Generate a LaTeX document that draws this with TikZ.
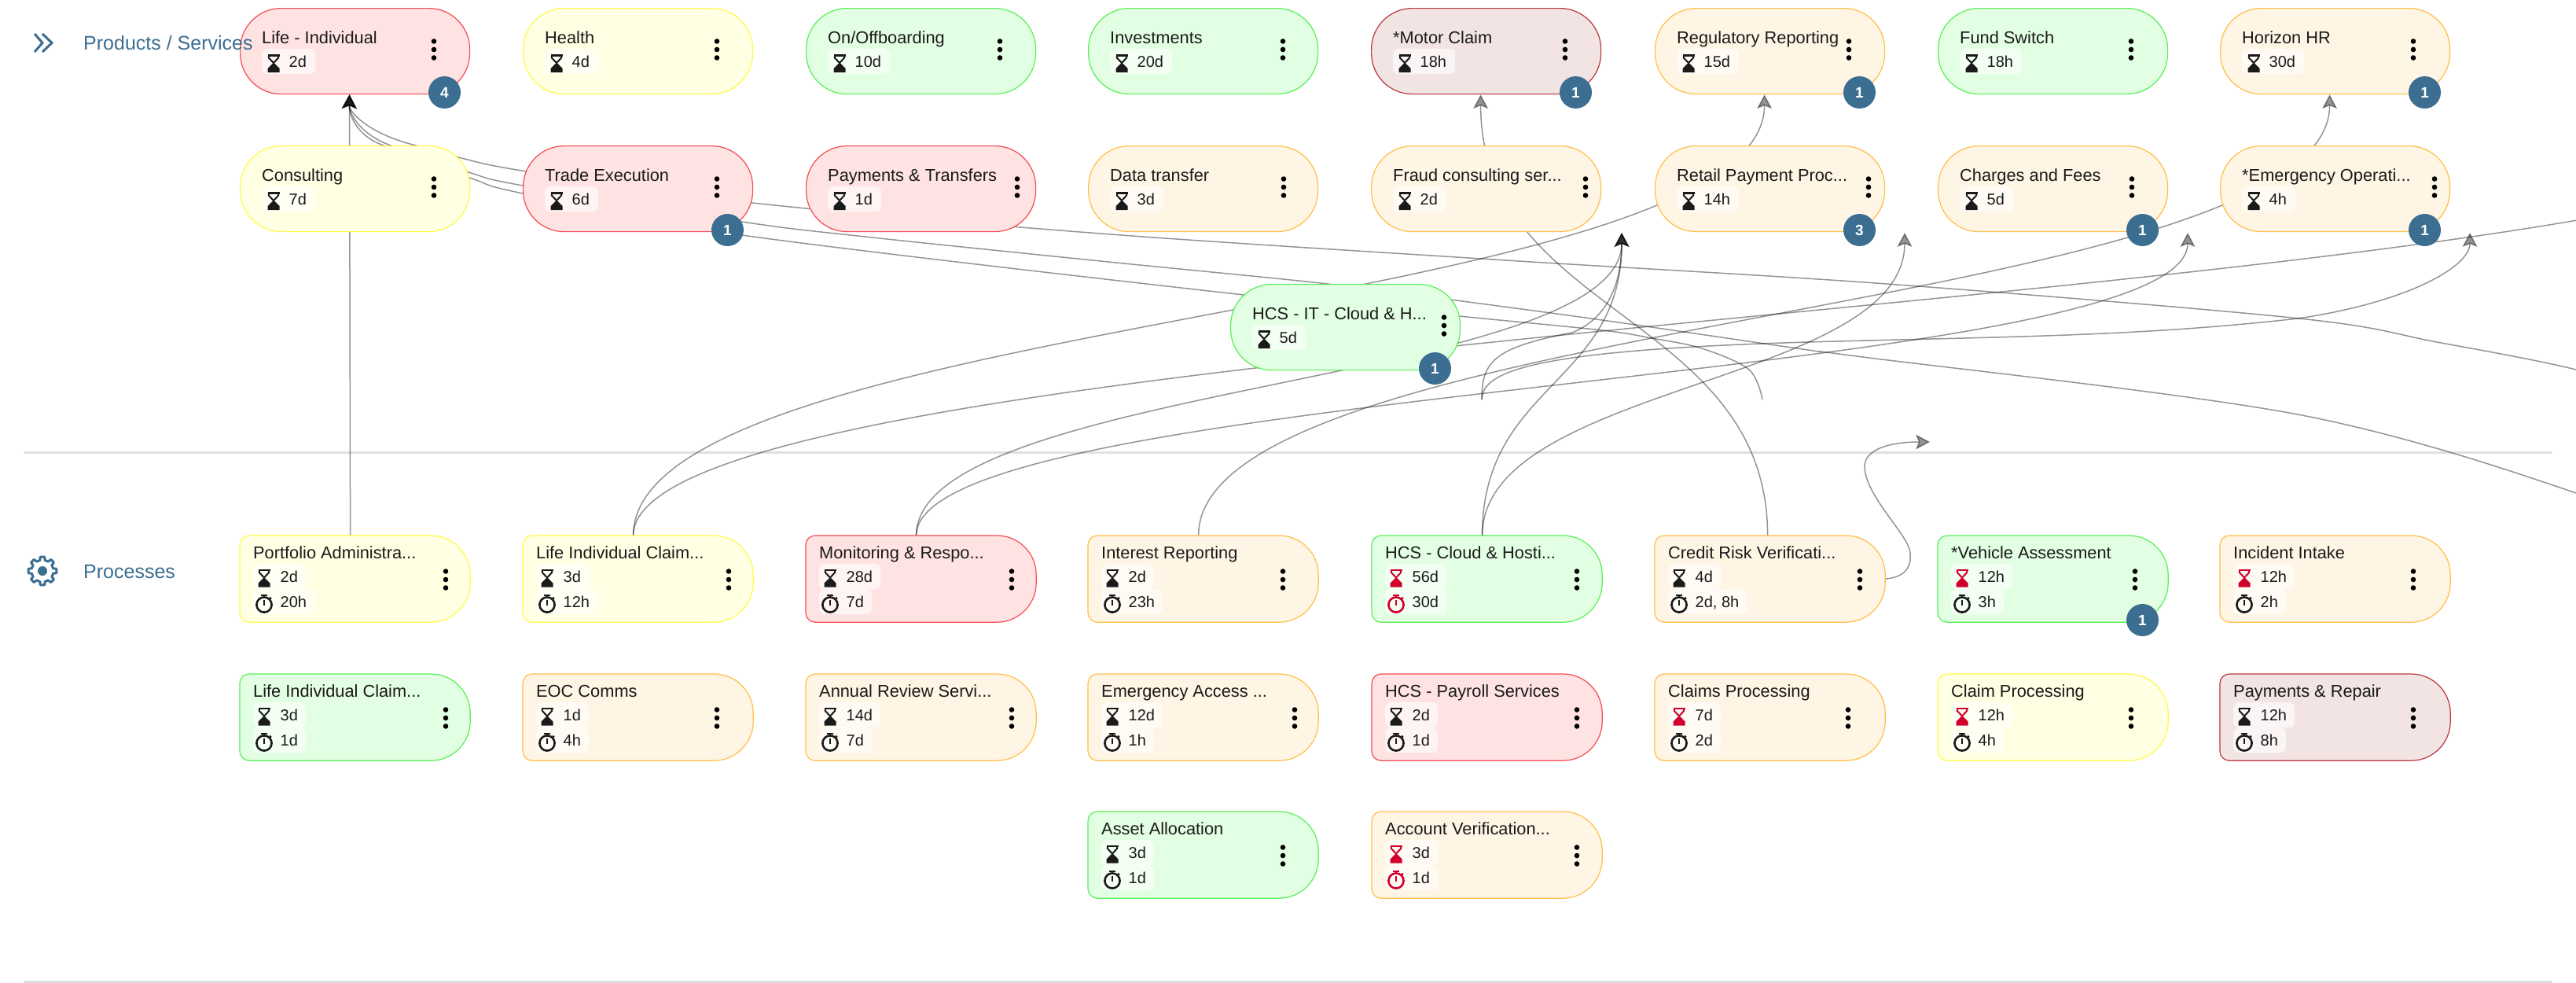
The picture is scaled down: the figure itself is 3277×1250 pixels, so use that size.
\documentclass[tikz,border=0pt]{standalone}
\usepackage{fontspec}
\setmainfont{Liberation Sans}
\usetikzlibrary{arrows.meta,backgrounds,calc}
\definecolor{inkc}{HTML}{1A1A1A}
\definecolor{alertc}{HTML}{D0002A}
\definecolor{bluec}{HTML}{3B6E91}
\definecolor{sepc}{HTML}{E0E0E0}
\tikzset{
  cRed/.style={fill={rgb,255:red,255;green,227;blue,227},draw={rgb,255:red,245;green,75;blue,80}},
  cYel/.style={fill={rgb,255:red,255;green,255;blue,227},draw={rgb,255:red,255;green,250;blue,70}},
  cGrn/.style={fill={rgb,255:red,227;green,255;blue,227},draw={rgb,255:red,85;green,240;blue,85}},
  cOrg/.style={fill={rgb,255:red,255;green,245;blue,228},draw={rgb,255:red,255;green,190;blue,70}},
  cDrk/.style={fill={rgb,255:red,243;green,228;blue,228},draw={rgb,255:red,185;green,55;blue,60}},
  cardshape/.style={rectangle,minimum width=292pt,minimum height=109pt,inner sep=0pt,anchor=north west,line width=1.2pt},
  titletext/.style={anchor=base west,inner sep=0pt,text=inkc,font=\fontsize{21.8}{26}\selectfont},
  pillbox/.style={anchor=north west,inner sep=0pt,minimum height=32pt,text height=14pt,text depth=0pt,
     fill=white,fill opacity=.62,text opacity=1,rounded corners=7pt,text=inkc,font=\fontsize{20}{24}\selectfont},
  badgenode/.style={circle,fill=bluec,text=white,minimum size=41pt,inner sep=0pt,font=\fontsize{19}{22}\selectfont\bfseries},
  sectiontext/.style={anchor=west,inner sep=0pt,text=bluec,font=\fontsize{25}{30}\selectfont},
  conn/.style={draw=black,opacity=.42,line width=1.5pt},
  tipped/.style={-{Stealth[length=18pt,width=19pt,inset=4pt]}},
  rtipped/.style={{Stealth[length=18pt,width=19pt,inset=4pt]}-},
}
\newcommand\hgl[3]{\begin{scope}[shift={(#1,#2)}]
  \fill[#3] (-7.5,-11.5) rectangle (7.5,-9);
  \draw[#3,line width=2pt] (-6.2,-10) -- (-6.2,-7) -- (0,-.5) -- (6.2,-7) -- (6.2,-10);
  \fill[#3] (0,-1) -- (7.5,6.5) -- (7.5,11.5) -- (-7.5,11.5) -- (-7.5,6.5) -- cycle;
  \end{scope}}
\newcommand\swt[3]{\begin{scope}[shift={(#1,#2)}]
  \draw[#3,line width=2.6pt] (0,0) circle (9.6pt);
  \fill[#3] (-3.8,-13.5) rectangle (3.8,-11);
  \draw[#3,line width=2pt] (0,-6) -- (0,1);
  \draw[#3,line width=1.8pt] (7,-9.5) -- (9,-7.5);
  \end{scope}}
\newcommand\kebab[3]{\fill[black] (#1,#2-10.5) circle (3.3pt) (#1,#2) circle (3.3pt) (#1,#2+10.5) circle (3.3pt);}
% name x y title colour kebabx value
\newcommand\svcbox[7]{\begin{scope}[shift={(#2,#3)}]
  \node[cardshape,#5,rounded corners=52pt] (#1) at (0,0) {};
  \node[titletext] (#1t) at (28,45) {#4};
  \node[pillbox] (#1v) at (28,52) {\hspace*{34.5pt}#7\hspace*{11pt}};
  \hgl{43}{70.5}{inkc}
  \kebab{#6}{53}{}
  \end{scope}}
% name x y title colour kebabx
\newcommand\prcbox[6]{\begin{scope}[shift={(#2,#3)}]
  \node[cardshape] (#1) at (0,0) {};
  \draw[#5,line width=1.2pt,rounded corners=12pt] (#1.north) -- (#1.north west) -- (#1.south west) -- (#1.south)
     [rounded corners=50pt] -- (#1.south east) -- (#1.north east) -- cycle;
  \node[titletext] (#1t) at (17,29) {#4};
  \kebab{#6}{56}{}
  \end{scope}}
% name val1 col1 val2 col2
\newcommand\prcvals[5]{\begin{scope}[shift={(#1.north west)}]
  \node[pillbox] (#1va) at (17,36) {\hspace*{34.5pt}#2\hspace*{10pt}};
  \node[pillbox] (#1vb) at (17,68) {\hspace*{34.5pt}#4\hspace*{10pt}};
  \hgl{31}{54}{#3}
  \swt{31}{88}{#5}
  \end{scope}}
\newcommand\badge[3]{\node[badgenode] (#1) at ($(#2.north west)+(260.5,107.5)$) {#3};}
\newcommand\vlink[3]{\coordinate (midpt) at ($(#1)!.5!(#2)$);
  \draw[conn,#3] (#1) .. controls (#1 |- midpt) and (#2 |- midpt) .. (#2);}
\begin{document}
\begin{tikzpicture}[x=1pt,y=-1pt]
\useasboundingbox (0,0) rectangle (3277,1250);
% services, first row
\svcbox{life}{305}{10}{Life - Individual}{cRed}{247}{2d}
\svcbox{health}{665}{10}{Health}{cYel}{247}{4d}
\svcbox{onoff}{1025}{10}{On/Offboarding}{cGrn}{247}{10d}
\svcbox{invest}{1384}{10}{Investments}{cGrn}{248}{20d}
\svcbox{motor}{1744}{10}{*Motor Claim}{cDrk}{247}{18h}
\svcbox{regul}{2105}{10}{Regulatory Reporting}{cOrg}{247}{15d}
\svcbox{fund}{2465}{10}{Fund Switch}{cGrn}{246}{18h}
\svcbox{horizon}{2824}{10}{Horizon HR}{cOrg}{246}{30d}
% services, second row
\svcbox{consult}{305}{185}{Consulting}{cYel}{247}{7d}
\svcbox{trade}{665}{185}{Trade Execution}{cRed}{247}{6d}
\svcbox{paytrans}{1025}{185}{Payments \& Transfers}{cRed}{269}{1d}
\svcbox{datatr}{1384}{185}{Data transfer}{cOrg}{249}{3d}
\svcbox{fraud}{1744}{185}{Fraud consulting ser...}{cOrg}{273}{2d}
\svcbox{retail}{2105}{185}{Retail Payment Proc...}{cOrg}{272}{14h}
\svcbox{charges}{2465}{185}{Charges and Fees}{cOrg}{247}{5d}
\svcbox{emerg}{2824}{185}{*Emergency Operati...}{cOrg}{273}{4h}
\svcbox{hcsit}{1565}{361}{HCS - IT - Cloud \& H...}{cGrn}{272}{5d}
% processes, first row
\prcbox{portf}{305}{681}{Portfolio Administra...}{cYel}{262}
\prcvals{portf}{2d}{inkc}{20h}{inkc}
\prcbox{lclaima}{665}{681}{Life Individual Claim...}{cYel}{262}
\prcvals{lclaima}{3d}{inkc}{12h}{inkc}
\prcbox{monit}{1025}{681}{Monitoring \& Respo...}{cRed}{262}
\prcvals{monit}{28d}{inkc}{7d}{inkc}
\prcbox{intrep}{1384}{681}{Interest Reporting}{cOrg}{248}
\prcvals{intrep}{2d}{inkc}{23h}{inkc}
\prcbox{cloud}{1745}{681}{HCS - Cloud \& Hosti...}{cGrn}{261}
\prcvals{cloud}{56d}{alertc}{30d}{alertc}
\prcbox{credit}{2105}{681}{Credit Risk Verificati...}{cOrg}{261}
\prcvals{credit}{4d}{inkc}{2d, 8h}{inkc}
\prcbox{vehicle}{2465}{681}{*Vehicle Assessment}{cGrn}{251}
\prcvals{vehicle}{12h}{alertc}{3h}{inkc}
\prcbox{incident}{2824}{681}{Incident Intake}{cOrg}{246}
\prcvals{incident}{12h}{alertc}{2h}{inkc}
% processes, second row
\prcbox{lclaimb}{305}{857}{Life Individual Claim...}{cGrn}{262}
\prcvals{lclaimb}{3d}{inkc}{1d}{inkc}
\prcbox{eoc}{665}{857}{EOC Comms}{cOrg}{247}
\prcvals{eoc}{1d}{inkc}{4h}{inkc}
\prcbox{annual}{1025}{857}{Annual Review Servi...}{cOrg}{262}
\prcvals{annual}{14d}{inkc}{7d}{inkc}
\prcbox{access}{1384}{857}{Emergency Access ...}{cOrg}{263}
\prcvals{access}{12d}{inkc}{1h}{inkc}
\prcbox{payroll}{1745}{857}{HCS - Payroll Services}{cRed}{261}
\prcvals{payroll}{2d}{inkc}{1d}{inkc}
\prcbox{claimsp}{2105}{857}{Claims Processing}{cOrg}{246}
\prcvals{claimsp}{7d}{alertc}{2d}{inkc}
\prcbox{claimp}{2465}{857}{Claim Processing}{cYel}{246}
\prcvals{claimp}{12h}{alertc}{4h}{inkc}
\prcbox{repair}{2824}{857}{Payments \& Repair}{cDrk}{246}
\prcvals{repair}{12h}{inkc}{8h}{inkc}
% processes, third row
\prcbox{asset}{1384}{1032}{Asset Allocation}{cGrn}{248}
\prcvals{asset}{3d}{inkc}{1d}{inkc}
\prcbox{account}{1745}{1032}{Account Verification...}{cOrg}{261}
\prcvals{account}{3d}{alertc}{1d}{alertc}
% badges
\badge{lifeb}{life}{4}
\badge{motorb}{motor}{1}
\badge{regulb}{regul}{1}
\badge{horizonb}{horizon}{1}
\badge{tradeb}{trade}{1}
\badge{retailb}{retail}{3}
\badge{chargesb}{charges}{1}
\badge{emergb}{emerg}{1}
\badge{hcsitb}{hcsit}{1}
\badge{vehicleb}{vehicle}{1}
% section headers
\draw[bluec,line width=3pt] (44,43) -- (54,54.5) -- (44,66) (54,43) -- (66,54.5) -- (54,66);
\node[sectiontext] (prodlabel) at (106,55) {Products / Services};
\begin{scope}[shift={(54,726)}]
  \draw[bluec,line width=3pt,line join=round] (-13:14)
    \foreach \a in {0,45,...,315} { -- (\a-13:14) -- (\a-9:18) -- (\a+9:18) -- (\a+13:14) } -- cycle;
  \fill[bluec] (0,0) circle (6pt);
\end{scope}
\node[sectiontext] (proclabel) at (106,727) {Processes};
% connectors and rules, behind everything
\begin{pgfonlayer}{background}
\fill[white] (0,0) rectangle (3277,1250);
\draw[sepc,line width=3pt] (30,575) -- (3247,575);
\draw[sepc,line width=3pt] (30,1248) -- (3247,1248);
\begin{scope}
\clip (0,0) rectangle (3277,1250);
\coordinate (tLife) at ([xshift=-7pt]life.south);
\coordinate (tMotor) at ([xshift=-7pt]motor.south);
\coordinate (tRegul) at ([xshift=-7pt]regul.south);
\coordinate (tHorizon) at ([xshift=-7pt]horizon.south);
\coordinate (sPortf) at ([xshift=-6pt]portf.north);
\coordinate (sClaim) at ([xshift=-6pt]lclaima.north);
\coordinate (sMonit) at ([xshift=-6pt]monit.north);
\coordinate (sIntrep) at ([xshift=-6pt]intrep.north);
\coordinate (sCloud) at ([xshift=-6pt]cloud.north);
\coordinate (sCredit) at ([xshift=-3pt]credit.north);
\coordinate (sCreditR) at (credit.east);
\coordinate (fA) at (1885,508);
\coordinate (fB) at (2242,508);
\coordinate (fC) at (2455,562);
\coordinate (t1) at (2063,296);
\coordinate (t2) at (2423,296);
\coordinate (t3) at (2783,296);
\coordinate (t4) at (3142,296);
\coordinate (offA) at (3690,120);
\draw[conn,tipped] (sPortf) -- (tLife);
\draw[conn,rtipped] (tLife) .. controls (444,142) and (468,170) .. (529,185) -- plot[smooth,tension=.55] coordinates {(529,185) (583,200) (670,218) (957,258) (1400,297) (1900,330) (2400,361) (2925,405) (3100,435) (3277,470) (3450,520)};
\draw[conn,rtipped] (tLife) .. controls (444,145) and (460,172) .. (497,185) -- plot[smooth,tension=.55] coordinates {(497,185) (596,219) (665,236) (944,282) (1091,300) (1400,332) (1680,360) (1845,381) (2038,407) (2300,445) (2362,453) (2923,527) (3277,627) (3400,690)};
\draw[conn,rtipped] (tLife) .. controls (444,148) and (456,174) .. (488,185) -- plot[smooth,tension=.55] coordinates {(488,185) (600,227) (665,246) (944,299) (1582,375) (1856,402) (2038,420) (2101,430) (2165,443) (2225,470) (fB)};
\vlink{sClaim}{tRegul}{tipped}
\vlink{sClaim}{offA}{}
\vlink{sMonit}{t1}{tipped}
\vlink{sMonit}{t3}{tipped}
\vlink{sIntrep}{tHorizon}{tipped}
\vlink{sCloud}{t1}{tipped}
\vlink{sCloud}{t2}{tipped}
\vlink{sCredit}{tMotor}{tipped}
\draw[conn,tipped] (fA) .. controls (1885,460) and (1900,442) .. (2000,423) .. controls (2045,405) and (2063,360) .. (t1);
\draw[conn,tipped] (fA) .. controls (1885,470) and (1960,445) .. (2300,435) .. controls (2550,428) and (2720,428) .. (2923,405) .. controls (3060,385) and (3142,340) .. (t4);
\draw[conn,tipped] (sCreditR) .. controls (2420,734) and (2432,725) .. (2430,703) .. controls (2428,680) and (2372,630) .. (2372,593) .. controls (2372,573) and (2400,562) .. (fC);
\end{scope}
\end{pgfonlayer}
\end{tikzpicture}
\end{document}
